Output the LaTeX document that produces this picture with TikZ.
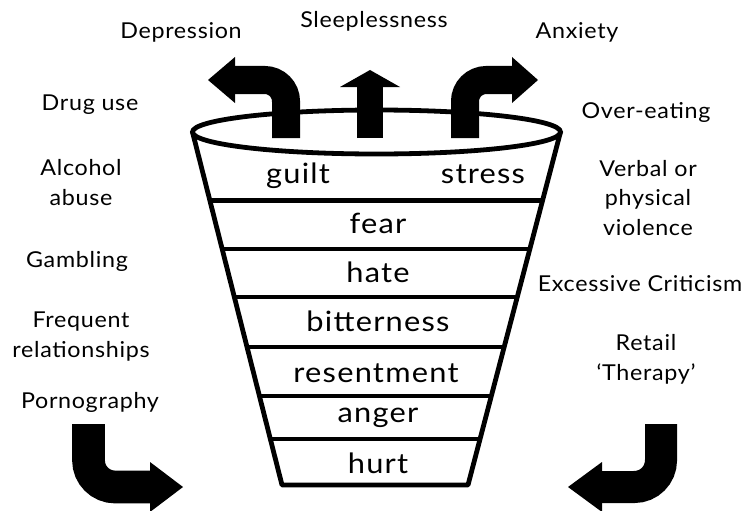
\documentclass[tikz,border=0pt]{standalone}
\usepackage{fontspec}
\setmainfont{Lato}
\newfontfamily\bigfont[LetterSpace=4]{Lato}
\newfontfamily\sidefont[LetterSpace=3]{Lato}
\usetikzlibrary{calc}
\begin{document}
\begin{tikzpicture}[x=0.75pt,y=-0.75pt,
  funnel/.style={line width=3.6pt},
  bigtxt/.style={font=\bigfont\fontsize{21}{24}\selectfont, inner sep=0pt, anchor=base, transform shape, xscale=1.1},
  sidetxt/.style={font=\sidefont\fontsize{16.4}{21.8}\selectfont, align=center, inner sep=0pt, anchor=base, transform shape, xscale=1.065},
  arr/.style={line width=#1, rounded corners=16pt},
  ]
\useasboundingbox[fill=white] (0,0) rectangle (745,510);
\begin{scope}
\clip (0,0) rectangle (745,510);
% funnel geometry
\coordinate (TL) at (192.5,132);
\coordinate (TR) at (560.5,132);
\coordinate (BL) at (282,485);
\coordinate (BR) at (468,485);
\draw[funnel, line join=round] (TL) -- (BL) -- (BR) -- (TR);
\foreach \t in {0.1934,0.3314,0.4674,0.6091,0.7479,0.8697}{
  \draw[funnel] ($(TL)!\t!(BL)$) -- ($(TR)!\t!(BR)$);
}
\draw[funnel] (376.5,132) ellipse [x radius=184, y radius=22];

% funnel labels
\node[bigtxt] (guilt) at (298,183) {guilt};
\node[bigtxt] (stress) at (483,183) {stress};
\node[bigtxt] (fear) at (378,233) {fear};
\node[bigtxt] (hate) at (378,282) {hate};
\node[bigtxt] (bitter) at (378,331) {bitterness};
\node[bigtxt] (resent) at (376,382) {resentment};
\node[bigtxt] (anger) at (378,422) {anger};
\node[bigtxt] (hurt) at (378,473) {hurt};

% top arrows
\coordinate (a1s) at (286,138);
\coordinate (a1c) at (286,80);
\coordinate (a1e) at (235,80);
\draw[arr=21pt] (a1s) -- (a1c) -- (a1e);
\fill (235,57) -- (208,80) -- (235,103) -- cycle;

\coordinate (a2s) at (370,138);
\coordinate (a2e) at (370,87);
\draw[line width=19.5pt] (a2s) -- (a2e);
\fill (340,87) -- (370,70) -- (400,87) -- cycle;

\coordinate (a3s) at (465,138);
\coordinate (a3c) at (465,80);
\coordinate (a3e) at (512,80);
\draw[arr=21pt] (a3s) -- (a3c) -- (a3e);
\fill (512,57) -- (538,80) -- (512,103) -- cycle;

% bottom arrows
\coordinate (b1s) at (88.5,424);
\coordinate (b1c) at (88.5,487);
\coordinate (b1e) at (150,487);
\draw[line width=24.5pt, rounded corners=20pt] (b1s) -- (b1c) -- (b1e);
\fill (150,462) -- (183,487) -- (150,512) -- cycle;

\coordinate (b2s) at (661,424);
\coordinate (b2c) at (661,487);
\coordinate (b2e) at (602,487);
\draw[line width=24pt, rounded corners=20pt] (b2s) -- (b2c) -- (b2e);
\fill (602,462) -- (568,487) -- (602,512) -- cycle;
\end{scope}

% outer labels
\node[sidetxt] (dep) at (181,39) {Depression};
\node[sidetxt] (sleep) at (374,28) {Sleeplessness};
\node[sidetxt] (anx) at (577,39) {Anxiety};
\node[sidetxt] (drug) at (90,110) {Drug use};
\node[sidetxt] (alc) at (81,205) {Alcohol\\abuse};
\node[sidetxt] (gamb) at (77,267) {Gambling};
\node[sidetxt] (freq) at (81,357) {Frequent\\relationships};
\node[sidetxt] (porn) at (90,408) {Pornography};
\node[sidetxt] (over) at (646,118) {Over-eating};
\node[sidetxt] (verb) at (648,235) {Verbal or\\physical\\violence};
\node[sidetxt] (crit) at (640,291) {Excessive Criticism};
\node[sidetxt] (retail) at (646,380) {Retail\\‘Therapy’};
\end{tikzpicture}
\end{document}
